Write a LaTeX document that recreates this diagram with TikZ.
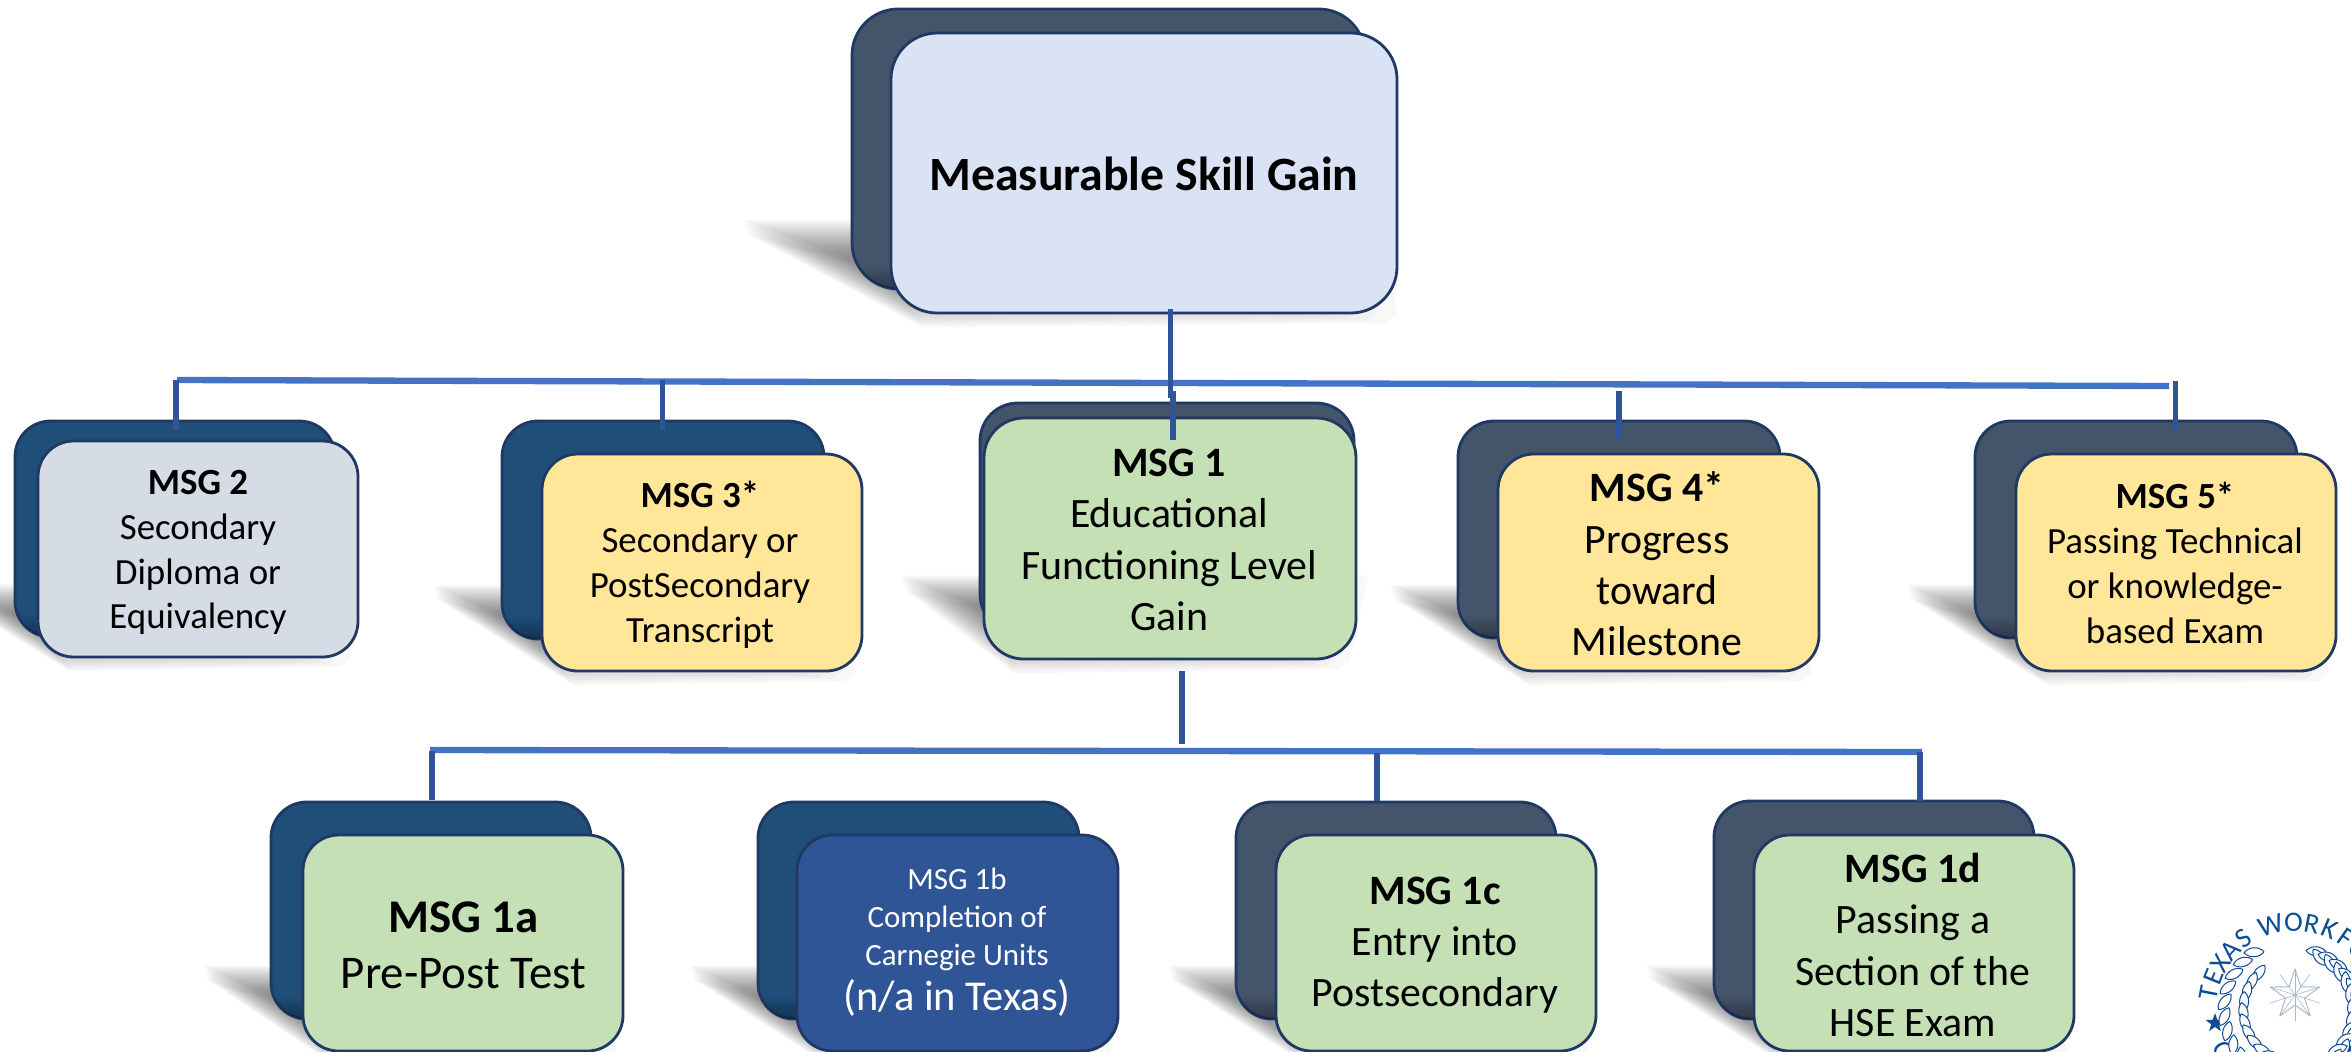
\documentclass[tikz,border=0pt]{standalone}
\usepackage{fontspec}
\setmainfont{Carlito}
\usetikzlibrary{calc}
\definecolor{backA}{HTML}{1F4E79}
\definecolor{backB}{HTML}{44546A}
\definecolor{edgeC}{HTML}{1F3864}
\definecolor{topF}{HTML}{DAE3F3}
\definecolor{greyF}{HTML}{D6DCE5}
\definecolor{yelF}{HTML}{FFE699}
\definecolor{grnF}{HTML}{C5E0B4}
\definecolor{bluF}{HTML}{2F5597}
\definecolor{busC}{HTML}{4472C4}
\definecolor{vertC}{HTML}{2F5597}
\definecolor{sealC}{HTML}{0F4C93}
\definecolor{starC}{HTML}{A9B7CB}
\tikzset{
  card/.style={rectangle,draw=edgeC,line width=2.4pt,inner sep=0pt,outer sep=0pt},
  label37/.style={align=center,inner sep=0pt,font=\fontsize{31.5}{38.3}\selectfont},
  label42/.style={align=center,inner sep=0pt,font=\fontsize{35.7}{43.8}\selectfont},
  label46/.style={align=center,inner sep=0pt,font=\fontsize{40}{47.6}\selectfont},
  bus/.style={busC,line width=5.4pt},
  drop/.style={vertC,line width=4.6pt},
  leaf/.style={draw=sealC,fill=white,line width=0.85pt},
}
\def\parsefour#1,#2,#3,#4\relax{\def\qa{#1}\def\qb{#2}\def\qc{#3}\def\qd{#4}}
% name, back box L,T,R,B, front box l,t,r,b, back colour, front colour
\newcommand\cardstack[5]{%
  \parsefour#2\relax
  \let\bL\qa \let\bT\qb \let\bR\qc \let\bB\qd
  \parsefour#3\relax
  \let\fL\qa \let\fT\qb \let\fR\qc \let\fB\qd
  \pgfmathsetmacro\bW{\bR-\bL}\pgfmathsetmacro\bH{\bB-\bT}
  \pgfmathsetmacro\fW{\fR-\fL}\pgfmathsetmacro\fH{\fB-\fT}
  \pgfmathsetmacro\rb{0.165*min(\bW,\bH)}
  \pgfmathsetmacro\rf{0.165*min(\fW,\fH)}
  \pgfmathsetmacro\tipX{\bL-0.2*\bW}
  \pgfmathsetmacro\tipY{\bB-0.24*\bH}
  \pgfmathsetmacro\cenX{\bL+0.05*\bW}
  \pgfmathsetmacro\cenY{\bB-0.08*\bH}
  \foreach \s in {1.04,1,0.96,0.92,0.88,0.84,0.8,0.76,0.72,0.68,0.64,0.6,0.56,0.52,0.48,0.44,0.4,0.36,0.32,0.28,0.24,0.2,0.16,0.12,0.08}{
    \fill[black,opacity=0.028,shift={(\cenX,\cenY)},scale=\s,shift={(-\cenX,-\cenY)}]
      (\tipX,\tipY) -- (\bR,\tipY) -- (\fR-20,\fB) -- (\fR-30,\fB+8)
      -- (\fL+30,\fB+12) -- (\tipX+4,\tipY+14) -- cycle;
  }
  \node[card,fill=#4,minimum width={\bW*0.03cm},minimum height={\bH*0.03cm},
        rounded corners={\rb*0.03cm}] (#1back) at ({(\bL+\bR)/2},{(\bT+\bB)/2}) {};
  \begin{scope}
    \clip[rounded corners={\rb*0.03cm}] (\bL,\bT) rectangle (\bR,\bB);
    \foreach \k in {3,6,9,12,15,18,21}{
      \fill[black,opacity=0.045] (\bL,\bB-\k) rectangle (\bR,\bB);
    }
  \end{scope}
  \node[card,fill=#5,minimum width={\fW*0.03cm},minimum height={\fH*0.03cm},
        rounded corners={\rf*0.03cm}] (#1front) at ({(\fL+\fR)/2},{(\fT+\fB)/2}) {};
}
\begin{document}
\begin{tikzpicture}[x=0.03cm,y=-0.03cm]
\path[use as bounding box] (0,0) rectangle (2351,1051);
\clip (0,0) rectangle (2351,1051);

\cardstack{msgtop}{852,9,1365,289}{891,33,1397,313}{backB}{topF}
\cardstack{msgtwo}{15,421,335,637}{38,441,358,657}{backA}{greyF}
\cardstack{msgthree}{502,421,824,639}{542,454,862,671}{backA}{yelF}
\cardstack{msgone}{980,403,1354,632}{984,418,1356,659}{backB}{grnF}
\cardstack{msgfour}{1458,421,1780,638}{1498,454,1819,671}{backB}{yelF}
\cardstack{msgfive}{1975,421,2297,638}{2016,454,2336,671}{backB}{yelF}
\cardstack{msgoa}{271,802,591,1019}{303,835,623,1051}{backA}{grnF}
\cardstack{msgob}{758,802,1079,1019}{797,835,1118,1051}{backA}{bluF}
\cardstack{msgoc}{1236,802,1556,1019}{1276,835,1596,1051}{backB}{grnF}
\cardstack{msgod}{1714,801,2034,1019}{1754,835,2074,1051}{backB}{grnF}

\node[font=\fontsize{40.8}{48}\selectfont\bfseries,inner sep=0pt] (ttop) at (1144,174) {Measurable Skill Gain};
\node[label37] (ttwo) at (198,552.5) {\textbf{MSG 2}\\Secondary\\Diploma or\\Equivalency};
\node[label37] (tthree) at (700,564.5) {\textbf{MSG 3*}\\Secondary or\\PostSecondary\\Transcript};
\node[label42] (tone) at (1169,540) {\textbf{MSG 1}\\Educational\\Functioning Level\\Gain};
\node[label42] (tfour) at (1657,564) {\textbf{MSG 4*}\\Progress\\toward\\Milestone};
\node[label37] (tfive) at (2175,563) {\textbf{MSG 5*}\\Passing Technical\\or knowledge-\\based Exam};
\node[label46] (toa) at (463.5,945) {\textbf{MSG 1a}\\Pre-Post Test};
\node[align=center,inner sep=0pt,text=white,font=\fontsize{26.4}{32.3}\selectfont] (tob) at (957,942)
  {MSG 1b\\Completion of\\Carnegie Units\\[6pt]\fontsize{36.3}{38}\selectfont (n/a in Texas)};
\node[label42] (toc) at (1435,945) {\textbf{MSG 1c}\\Entry into\\Postsecondary};
\node[label42] (tod) at (1913,945) {\textbf{MSG 1d}\\Passing a\\Section of the\\HSE Exam};

% connectors
\coordinate (busL) at (177,380);
\coordinate (busR) at (2169,386);
\coordinate (busTwoL) at (430,750);
\coordinate (busTwoR) at (1922,752);
\coordinate (topOut) at (1170.5,309);
\coordinate (topEnd) at (1170.5,398);
\coordinate (oneTopStart) at (1173,391);
\coordinate (oneTopEnd) at (1173,440);
\coordinate (twoStart) at (176,380);
\coordinate (twoEnd) at (176,430);
\coordinate (threeStart) at (662.5,380);
\coordinate (threeEnd) at (662.5,430);
\coordinate (fourStart) at (1619,391);
\coordinate (fourEnd) at (1619,440);
\coordinate (fiveStart) at (2175.5,381);
\coordinate (fiveEnd) at (2175.5,430);
\coordinate (oneOut) at (1182,671);
\coordinate (oneEnd) at (1182,744);
\coordinate (oaStart) at (432,751);
\coordinate (oaEnd) at (432,800);
\coordinate (ocStart) at (1377,753);
\coordinate (ocEnd) at (1377,801);
\coordinate (odStart) at (1920,752);
\coordinate (odEnd) at (1920,801);
\draw[bus] (busL) -- (busR);
\draw[bus] (busTwoL) -- (busTwoR);
\draw[drop] (topOut) -- (topEnd);
\draw[drop] (oneTopStart) -- (oneTopEnd);
\draw[drop] (twoStart) -- (twoEnd);
\draw[drop] (threeStart) -- (threeEnd);
\draw[drop] (fourStart) -- (fourEnd);
\draw[drop] (fiveStart) -- (fiveEnd);
\draw[drop] (oneOut) -- (oneEnd);
\draw[drop] (oaStart) -- (oaEnd);
\draw[drop] (ocStart) -- (ocEnd);
\draw[drop] (odStart) -- (odEnd);

% seal
\begin{scope}[shift={(2295,1010)},x=0.03cm,y=0.03cm]
  \foreach \a/\l [count=\i] in {169/T,158/E,148/X,137/A,126/S,106/W,91/O,79/R,67/K,55/F,43/O}{
    \node[text=sealC,inner sep=0pt,rotate=\a-90,font=\fontsize{24}{24}\selectfont] (ltr\i) at (\a:88) {\l};
  }
  \node[text=sealC,inner sep=0pt,rotate=299,font=\fontsize{24}{24}\selectfont] (ltrC) at (209:82) {C};
  \foreach \c/\d in {-80/-13,55/-37}{
    \fill[sealC,shift={(\c,\d)}] (90:10) -- (126:4) -- (162:10) -- (198:4) -- (234:10) -- (270:4) -- (306:10) -- (342:4) -- (18:10) -- (54:4) -- cycle;
  }
  % wreath
  \foreach \a in {118,130,142,154,166,178,190,202,214,226,238,250,262}{
    \draw[leaf,shift={(\a:66)},rotate=\a+65] (0,0) .. controls (5,6) and (15,6) .. (20,0) .. controls (15,-6) and (5,-6) .. (0,0);
    \draw[leaf,shift={(\a+6:54)},rotate=\a+115] (0,0) .. controls (5,6) and (15,6) .. (20,0) .. controls (15,-6) and (5,-6) .. (0,0);
  }
  \foreach \a in {62,50,38,26,14,2,-10,-22,-34,-46,-58,-70,-82}{
    \draw[leaf,shift={(\a:66)},rotate=\a+115] (0,0) .. controls (5,6) and (15,6) .. (20,0) .. controls (15,-6) and (5,-6) .. (0,0);
    \draw[leaf,shift={(\a-6:54)},rotate=\a+65] (0,0) .. controls (5,6) and (15,6) .. (20,0) .. controls (15,-6) and (5,-6) .. (0,0);
  }
  % star
  \begin{scope}[shift={(0,15)}]
    \draw[starC,line width=0.8pt,line join=round,fill=white] (90:26) -- (126:10) -- (162:26) -- (198:10) -- (234:26) -- (270:10) -- (306:26) -- (342:10) -- (18:26) -- (54:10) -- cycle;
    \foreach \a in {90,162,234,306,18,126,198,270,342,54}{\draw[starC,line width=0.5pt] (0,0) -- (\a:26);}
  \end{scope}
\end{scope}
\end{tikzpicture}
\end{document}
